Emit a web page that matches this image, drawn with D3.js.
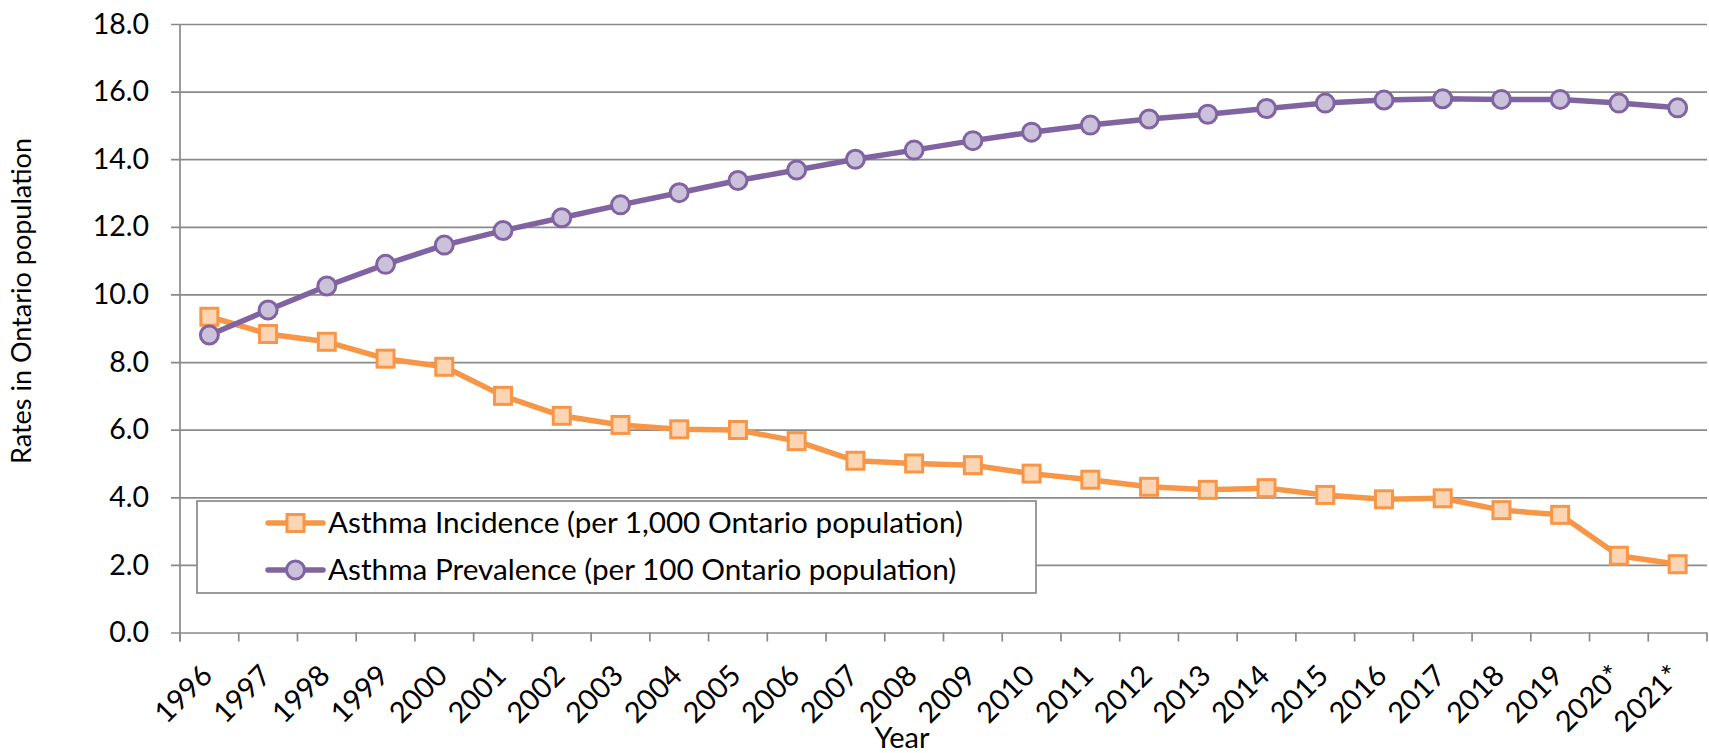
<!DOCTYPE html>
<html>
<head>
<meta charset="utf-8">
<script src="https://cdn.jsdelivr.net/npm/d3@7"></script>
<style>
  html, body { margin: 0; padding: 0; background: #fff; }
  svg { display: block; font-family: Lato, "Open Sans", sans-serif; }
</style>
</head>
<body>
<svg id="chart" width="1709" height="753"></svg>
<script>
// categories (years)
const years = ['1996', '1997', '1998', '1999', '2000', '2001', '2002', '2003', '2004', '2005',
  '2006', '2007', '2008', '2009', '2010', '2011', '2012', '2013', '2014', '2015',
  '2016', '2017', '2018', '2019', '2020*', '2021*'];

// Asthma Incidence (per 1,000)
const incidence = [9.34, 8.83, 8.60, 8.10, 7.86, 7.00, 6.41, 6.14, 6.01, 5.99,
  5.66, 5.08, 5.00, 4.95, 4.70, 4.52, 4.31, 4.22, 4.27, 4.07,
  3.94, 3.97, 3.62, 3.48, 2.27, 2.02];

// Asthma Prevalence (per 100)
const prevalence = [8.80, 9.54, 10.25, 10.89, 11.46, 11.89, 12.27, 12.65, 13.01, 13.37,
  13.68, 14.00, 14.27, 14.55, 14.80, 15.01, 15.19, 15.33, 15.50, 15.66,
  15.75, 15.79, 15.77, 15.77, 15.66, 15.52];

const yTicks = [0, 2, 4, 6, 8, 10, 12, 14, 16, 18];

const seriesNames = ['Asthma Incidence (per 1,000 Ontario population)',
  'Asthma Prevalence (per 100 Ontario population)'];

const margin = {top: 24, right: 2, bottom: 120.5, left: 180};
const width = 1709, height = 753;
const gridColor = '#8a8a8a';

const svg = d3.select('#chart');

const x = d3.scaleBand()
  .domain(years)
  .range([margin.left, width - margin.right]);

const y = d3.scaleLinear()
  .domain([0, 18])
  .range([height - margin.bottom, margin.top]);

// gridlines + y axis
const yAxis = d3.axisLeft(y)
  .tickValues(yTicks)
  .tickSize(-(width - margin.right - margin.left))
  .tickFormat(d3.format('.1f'));

const gy = svg.append('g')
  .attr('transform', `translate(${margin.left},0)`)
  .call(yAxis);
gy.select('.domain').remove();
gy.selectAll('.tick line')
  .attr('x1', -9)
  .attr('stroke', gridColor)
  .attr('stroke-width', 1.7);
gy.selectAll('.tick text')
  .attr('x', -31)
  .attr('fill', '#000')
  .style('font-size', '28.5px')
  .style('font-family', 'Lato, sans-serif');

// y axis line
svg.append('line')
  .attr('x1', margin.left).attr('x2', margin.left)
  .attr('y1', y(18)).attr('y2', y(0) + 9)
  .attr('stroke', gridColor)
  .attr('stroke-width', 1.7);

// x axis category ticks at band edges
const edges = years.map(d => x(d)).concat([x.range()[1]]);
svg.append('g')
  .selectAll('line')
  .data(edges)
  .enter().append('line')
  .attr('x1', d => d).attr('x2', d => d)
  .attr('y1', y(0)).attr('y2', y(0) + 9)
  .attr('stroke', gridColor)
  .attr('stroke-width', 1.7);

// x labels, rotated
svg.append('g')
  .selectAll('text')
  .data(years)
  .enter().append('text')
  .attr('transform', d => `translate(${x(d) + x.bandwidth() / 2 - 10},${y(0) + 30}) rotate(-45)`)
  .attr('text-anchor', 'end')
  .attr('dy', '0.72em')
  .style('font-size', '29px')
  .attr('fill', '#000')
  .text(d => d);

// axis titles
svg.append('text')
  .attr('x', 902)
  .attr('y', 748)
  .attr('text-anchor', 'middle')
  .style('font-size', '29px')
  .text('Year');

svg.append('text')
  .attr('transform', 'translate(31,301) rotate(-90)')
  .attr('text-anchor', 'middle')
  .style('font-size', '27px')
  .text('Rates in Ontario population');

// legend box (drawn before lines; lines sit above it)
const legend = svg.append('g');
legend.append('rect')
  .attr('x', 197).attr('y', 501)
  .attr('width', 839).attr('height', 92)
  .attr('fill', '#fff')
  .attr('stroke', gridColor)
  .attr('stroke-width', 1.7);

// series
const line = d3.line()
  .x((d, i) => x(years[i]) + x.bandwidth() / 2)
  .y(d => y(d));

svg.append('path')
  .datum(incidence)
  .attr('fill', 'none')
  .attr('stroke', '#F79646')
  .attr('stroke-width', 5.5)
  .attr('stroke-linejoin', 'round')
  .attr('d', line);

svg.append('path')
  .datum(prevalence)
  .attr('fill', 'none')
  .attr('stroke', '#8064A2')
  .attr('stroke-width', 5.5)
  .attr('stroke-linejoin', 'round')
  .attr('d', line);

svg.append('g')
  .selectAll('rect')
  .data(incidence)
  .enter().append('rect')
  .attr('x', (d, i) => x(years[i]) + x.bandwidth() / 2 - 8.5)
  .attr('y', d => y(d) - 8.5)
  .attr('width', 17).attr('height', 17)
  .attr('fill', '#FCD5B5')
  .attr('stroke', '#F79646')
  .attr('stroke-width', 3);

svg.append('g')
  .selectAll('circle')
  .data(prevalence)
  .enter().append('circle')
  .attr('cx', (d, i) => x(years[i]) + x.bandwidth() / 2)
  .attr('cy', d => y(d))
  .attr('r', 9)
  .attr('fill', '#CCC1DA')
  .attr('stroke', '#8064A2')
  .attr('stroke-width', 3);

// legend entries
const rows = [
  {name: seriesNames[0], color: '#F79646', fill: '#FCD5B5', shape: 'square', cy: 523},
  {name: seriesNames[1], color: '#8064A2', fill: '#CCC1DA', shape: 'circle', cy: 570}
];
rows.forEach(r => {
  legend.append('line')
    .attr('x1', 268).attr('x2', 323)
    .attr('y1', r.cy).attr('y2', r.cy)
    .attr('stroke', r.color)
    .attr('stroke-width', 5.5)
    .attr('stroke-linecap', 'round');
  if (r.shape === 'square') {
    legend.append('rect')
      .attr('x', 295.5 - 8.5).attr('y', r.cy - 8.5)
      .attr('width', 17).attr('height', 17)
      .attr('fill', r.fill).attr('stroke', r.color).attr('stroke-width', 3);
  } else {
    legend.append('circle')
      .attr('cx', 295.5).attr('cy', r.cy).attr('r', 9)
      .attr('fill', r.fill).attr('stroke', r.color).attr('stroke-width', 3);
  }
  legend.append('text')
    .attr('x', 328).attr('y', r.cy)
    .attr('dy', '0.35em')
    .style('font-size', '29.7px')
    .text(r.name);
});
</script>
</body>
</html>
